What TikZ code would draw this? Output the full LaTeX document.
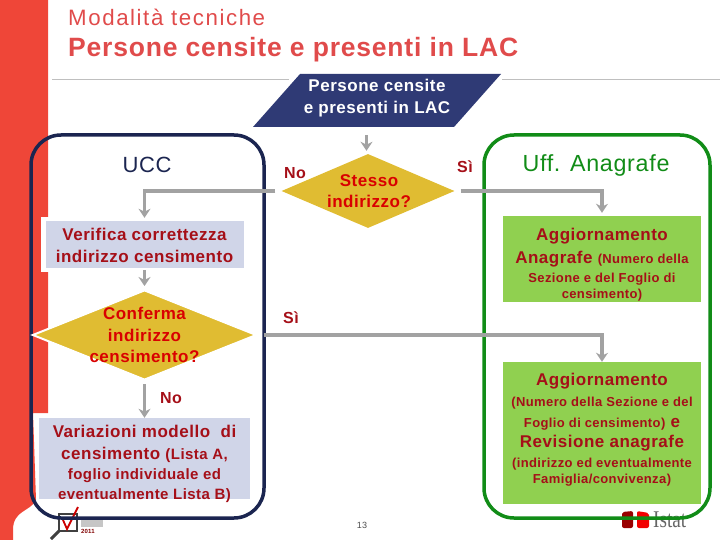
\documentclass[tikz,border=0pt]{standalone}
\usepackage{fontspec}
\setmainfont{Liberation Sans}[LetterSpace=3]
\newfontfamily\logofont{Liberation Serif}[FakeStretch=0.8]
\usetikzlibrary{arrows.meta,shapes.geometric}
\definecolor{barred}{HTML}{EF4638}
\definecolor{titlered}{HTML}{E04B4B}
\definecolor{navy}{HTML}{1B2550}
\definecolor{lacblue}{HTML}{2F3A75}
\definecolor{ufficio}{HTML}{118C17}
\definecolor{ochre}{HTML}{E0BC32}
\definecolor{lilac}{HTML}{D0D5E8}
\definecolor{leaf}{HTML}{90D050}
\definecolor{darkred}{HTML}{A50F18}
\definecolor{flowgrey}{HTML}{A2A2A2}
\newcommand{\bigtxt}{\fontsize{17}{21}\selectfont\bfseries}
\newcommand{\smalltxt}{\fontsize{13}{18}\selectfont\bfseries}
\newcommand{\midtxt}{\fontsize{15}{18}\selectfont\bfseries}
\tikzset{
  area/.style={draw, line width=3.5pt, rounded corners=30pt},
  decision/.style={diamond, fill=ochre, inner sep=0pt},
  dectext/.style={align=center, text=red!85!black, inner sep=0pt, font=\fontsize{17}{21.5}\selectfont\bfseries},
  bluebox/.style={fill=lilac, inner sep=0pt},
  greenbox/.style={fill=leaf, inner sep=0pt, minimum width=198pt},
  boxtext/.style={text=darkred, align=center, inner sep=0pt, font=\bigtxt},
  answer/.style={text=darkred, font=\fontsize{16}{18}\selectfont\bfseries, inner sep=0pt},
  flow/.style={draw=flowgrey, line width=3.5pt, -{Stealth[length=9pt,width=12pt]}}
}
\begin{document}
\begin{tikzpicture}[x=1pt, y=-1pt]
  \useasboundingbox (0,0) rectangle (720,540);
  % side band
  \fill[barred] (0,0) -- (48,0) -- (48,413) -- (33,413) -- (36,500)
    .. controls (30,512) and (13,510) .. (13,530) -- (13,540) -- (0,540) -- cycle;
  % titles
  \node[anchor=west, inner sep=0pt, text=titlered, font=\fontsize{22.3}{24}\selectfont\addfontfeature{LetterSpace=7}] (subtitle) at (68,17.5) {Modalità tecniche};
  \node[anchor=west, inner sep=0pt, text=titlered, font=\fontsize{26.5}{30}\selectfont\bfseries] (title) at (68,50) {Persone censite e presenti in LAC};
  \draw[gray!50] (52,79.5) -- (289,79.5);
  \draw[gray!50] (502,79.5) -- (720,79.5);
  % page number and logos
  \node[text=black!70, font=\fontsize{9}{10}\selectfont] (pagina) at (362,525.5) {13};
  \draw[black!75, line width=2.5pt] (59,514) rectangle (77,531);
  \draw[black!75, line width=3pt] (59,531) -- (51,539);
  \draw[red!80!black, line width=1.8pt] (63,520) -- (67,529) -- (78,507);
  \fill[gray!45] (81,520) rectangle (103,527);
  \node[text=red!50!black, anchor=west, inner sep=0pt, font=\fontsize{6}{7}\selectfont\bfseries] (anno) at (81,531) {2011};
  \fill[rounded corners=2pt, fill=red!60!black] (622,528) -- (622,512) -- (633,511) -- (633,528) -- cycle;
  \fill[rounded corners=2pt, fill=red!95!black] (637,528) -- (637,511) -- (649,513) -- (649,528) -- cycle;
  \node[text=black!60, font=\logofont\fontsize{24}{26}\selectfont, anchor=west, inner sep=0pt] (istat) at (653,520) {Istat};
  % the two offices
  \draw[area, navy] (31,135) rectangle (264,518);
  \draw[area, ufficio] (484,135) rectangle (710,518);
  \node[text=navy, font=\fontsize{22}{24}\selectfont] (ucc) at (147,164.5) {UCC};
  \node[text=ufficio, font=\fontsize{23.3}{24}\selectfont] (uff) at (596,165) {Uff. Anagrafe};
  % start
  \fill[lacblue] (253,127) -- (300,74) -- (501,74) -- (454,127) -- cycle;
  \node[align=center, text=white, inner sep=0pt, font=\fontsize{17}{21.5}\selectfont\bfseries] (lac) at (377,98) {Persone censite\\e presenti in LAC};
  \coordinate (lacout) at (366.5,135);
  % decisions
  \node[decision, minimum width=173pt, minimum height=74pt] (stesso) at (368,191) {};
  \node[dectext] (stessotext) at (369,191) {Stesso\\indirizzo?};
  \node[decision, minimum width=224pt, minimum height=90pt, draw=white, line width=2pt] (conferma) at (144.5,335) {};
  \node[dectext] (confermatext) at (144.5,335) {Conferma\\indirizzo\\censimento?};
  % boxes
  \fill[white] (41,217) rectangle (243,272);
  \node[bluebox, minimum width=198pt, minimum height=47pt] (verifica) at (144.5,244.5) {};
  \node[boxtext] (verificatext) at (144.5,245) {Verifica correttezza\\[1pt]indirizzo censimento};
  \node[bluebox, minimum width=211pt, minimum height=81pt] (variazioni) at (144.5,458.5) {};
  \node[boxtext] (variazionitext) at (144.5,463.5)
    {Variazioni modello\ \ di\\[1pt]censimento {\midtxt (Lista A,}\\[-1pt]{\midtxt foglio individuale ed}\\[-1pt]{\midtxt eventualmente Lista B)}};
  \node[greenbox, minimum height=86pt] (anagrafe) at (602,259) {};
  \node[boxtext] (anagrafetext) at (602,265)
    {Aggiornamento\\[2pt]Anagrafe {\smalltxt (Numero della}\\[-2pt]{\smalltxt Sezione e del Foglio di}\\[-5pt]{\smalltxt censimento)}};
  \node[greenbox, minimum height=142pt] (revisione) at (602,433) {};
  \node[boxtext] (revisionetext) at (602,430)
    {Aggiornamento\\{\smalltxt (Numero della Sezione e del}\\{\smalltxt Foglio di censimento)} e\\[-1pt]Revisione anagrafe\\[-1pt]{\smalltxt (indirizzo ed eventualmente}\\[-5pt]{\smalltxt Famiglia/convivenza)}};
  % answers
  \node[answer] (nosx) at (295,173) {No};
  \node[answer] (sidx) at (465,167) {Sì};
  \node[answer] (siconf) at (291,318) {Sì};
  \node[answer] (noconf) at (171,398) {No};
  % connectors
  \draw[flow, shorten >=3pt] (lacout) -- (lacout |- stesso.north);
  \draw[flow, shorten <=6pt, shorten >=3pt] (stesso.west) -| (verifica.north);
  \draw[flow, shorten <=6pt, shorten >=3pt] (stesso.east) -| (anagrafe.north);
  \draw[flow, shorten <=2pt, shorten >=3pt] (verifica.south) -- (conferma.north);
  \draw[flow, shorten <=6pt] (conferma.east) -| (revisione.north);
  \draw[flow, shorten <=3pt] (conferma.south) -- (variazioni.north);
\end{tikzpicture}
\end{document}
